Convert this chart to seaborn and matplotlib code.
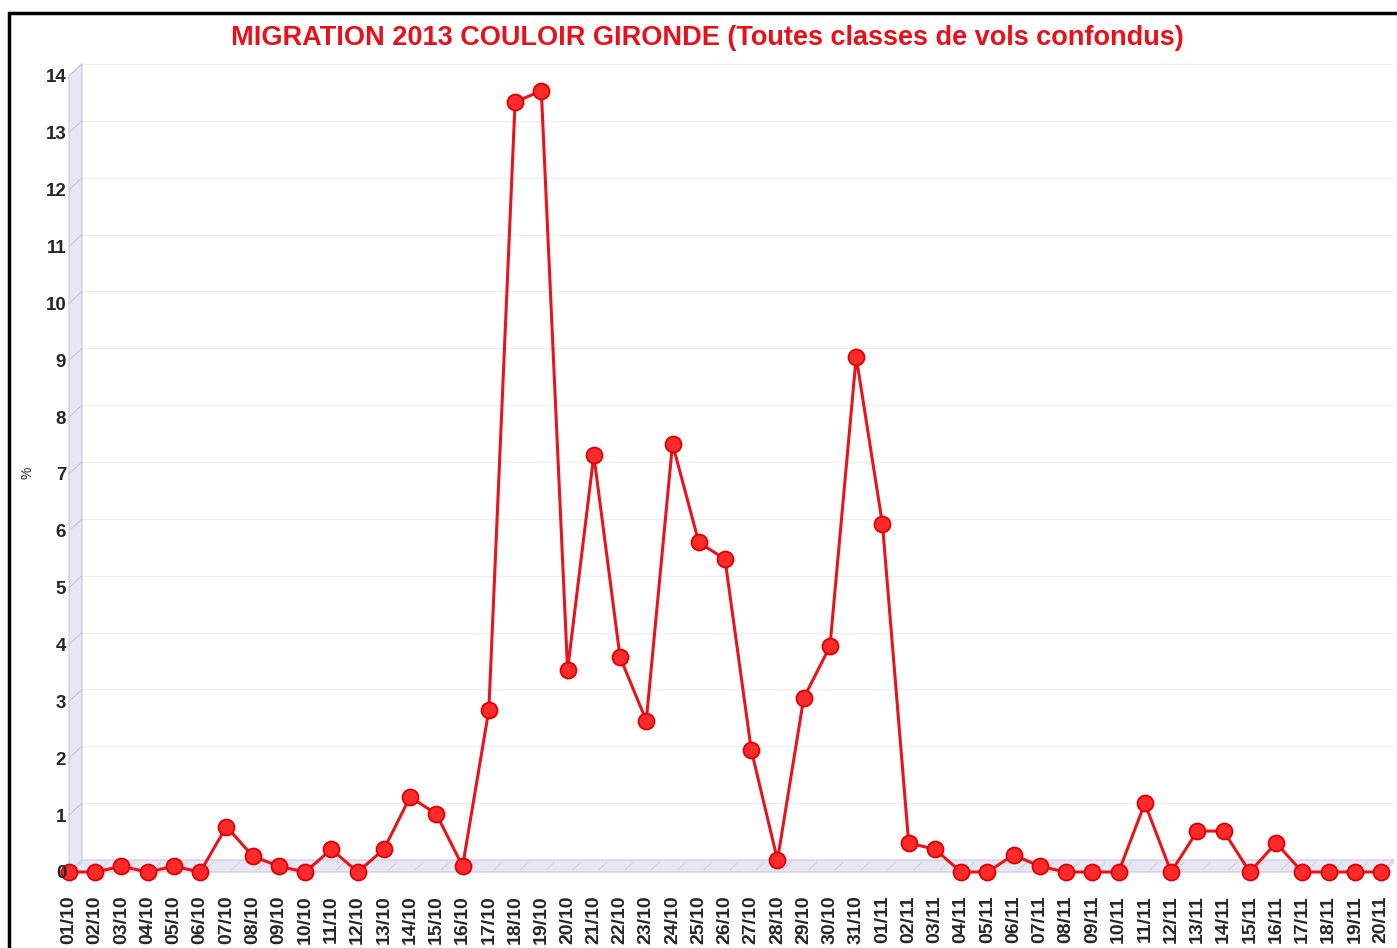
import numpy as np
import pandas as pd
import matplotlib
matplotlib.use("Agg")
import matplotlib.pyplot as plt
import seaborn as sns
from matplotlib.patches import Polygon, Rectangle

# données (% par jour)
days = ["01/10", "02/10", "03/10", "04/10", "05/10", "06/10", "07/10", "08/10", "09/10", "10/10",
        "11/10", "12/10", "13/10", "14/10", "15/10", "16/10", "17/10", "18/10", "19/10", "20/10",
        "21/10", "22/10", "23/10", "24/10", "25/10", "26/10", "27/10", "28/10", "29/10", "30/10",
        "31/10", "01/11", "02/11", "03/11", "04/11", "05/11", "06/11", "07/11", "08/11", "09/11",
        "10/11", "11/11", "12/11", "13/11", "14/11", "15/11", "16/11", "17/11", "18/11", "19/11",
        "20/11"]
pct = [0, 0, 0.1, 0, 0.1, 0, 0.8, 0.28, 0.1, 0,
       0.4, 0, 0.4, 1.32, 1.02, 0.1, 2.85, 13.54, 13.74, 3.55,
       7.33, 3.78, 2.66, 7.53, 5.8, 5.5, 2.15, 0.21, 3.06, 3.97,
       9.06, 6.12, 0.51, 0.4, 0, 0, 0.3, 0.1, 0, 0,
       0, 1.21, 0, 0.72, 0.72, 0, 0.51, 0, 0, 0,
       0]
yticks = list(range(0, 15))

df = pd.DataFrame({"pos": np.arange(len(days)), "pct": pct})

W, H = 1397, 948
fig = plt.figure(figsize=(W / 100, H / 100), dpi=100)
sns.set_style("white")
plt.rcParams["font.family"] = ["Liberation Sans", "DejaVu Sans"]

# axes placée en pixels: x=0 -> 69px, y=0 -> 872px
px_x, px_y = 26.24, 56.86
xmax, ytop = 50.5, 14.25
left, bottom = 69, 872
ax = fig.add_axes([left / W, (H - bottom) / H, xmax * px_x / W, ytop * px_y / H])
ax.set_xlim(0, xmax)
ax.set_ylim(0, ytop)
ax.set_axisbelow(False)  # les libellés passent devant les marqueurs
for s in ax.spines.values():
    s.set_visible(False)

# effet 3D : décalage du fond
dx, dy = 13 / px_x, 12 / px_y
wall = "#e6e6f5"
edge = "#c8c8d8"
ax.add_patch(Polygon([(0, 0), (50.5 - dx, 0), (50.5, dy), (dx, dy)], closed=True,
                     facecolor=wall, edgecolor=edge, lw=0.8, zorder=1, clip_on=False))
ax.add_patch(Polygon([(0, 0), (0, 14), (dx, 14 + dy), (dx, dy)], closed=True,
                     facecolor=wall, edgecolor=edge, lw=0.8, zorder=1, clip_on=False))
for y in yticks[1:]:
    ax.plot([dx, xmax], [y + dy, y + dy], color="#efefef", lw=0.9, zorder=0.5)
    ax.plot([0, dx], [y, y + dy], color="#c8c8d0", lw=0.8, zorder=1.5, clip_on=False)
for x in range(0, 51):
    ax.plot([x + 0.2, x + 0.2 + dx * 0.6], [dy * 0.2, dy * 0.8], color="#c8d0dc",
            lw=0.7, zorder=1.5, clip_on=False)

sns.lineplot(data=df, x="pos", y="pct", ax=ax, color="#e8141c", lw=2.2,
             marker="o", markersize=11.5, markerfacecolor="#ff2a2a",
             markeredgecolor="#e00000", markeredgewidth=1.3, zorder=2.2, clip_on=False)

ax.set_xticks(df["pos"])
ax.set_xticklabels(days, rotation=90, fontsize=14, fontweight="bold")
ax.set_yticks(yticks)
ax.set_yticklabels([str(v) for v in yticks], fontsize=13.5, fontweight="bold")
ax.tick_params(axis="x", length=0, pad=17)
ax.tick_params(axis="y", length=0, pad=2)
ax.set_xlabel("")
ax.set_ylabel("")
ax.grid(False)

fig.text(27 / W, 1 - 473 / H, "%", rotation=90, ha="center", va="center", fontsize=10)
fig.text(707 / W, 1 - 38 / H, "MIGRATION 2013 COULOIR GIRONDE (Toutes classes de vols confondus)",
         ha="center", va="center", color="#e8101a", fontsize=19.5, fontweight="bold")

# cadre noir
fig.patches.append(Rectangle((9 / W, -0.05), 1.1, 1 - 13 / H + 0.05, transform=fig.transFigure,
                             fill=False, edgecolor="black", lw=2.5))

fig.savefig("out.png", dpi=100)
